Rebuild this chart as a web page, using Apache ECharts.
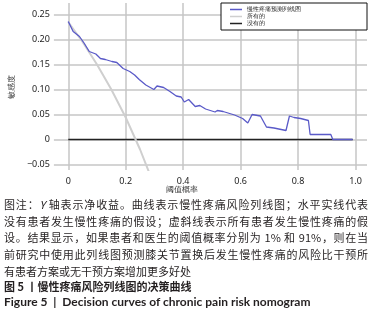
<!DOCTYPE html>
<html>
<head>
<meta charset="utf-8" />
<script src="https://cdn.jsdelivr.net/npm/echarts@6/dist/echarts.min.js"></script>
<style>
  body {
    margin: 0;
    background: #fff;
  }
  #echart {
    position: absolute;
    left: 0;
    top: 0;
    width: 379px;
    height: 315px;
  }
  .caption {
    position: absolute;
    left: 4px;
    top: 196px;
    width: 364px;
    font-family: "Noto Sans CJK SC", sans-serif;
    font-size: 11px;
    color: #231f20;
  }
  .caption .row {
    line-height: 16.7px;
    height: 16.7px;
    text-align: justify;
    text-align-last: justify;
    white-space: nowrap;
  }
  .caption .row.last {
    text-align-last: left;
  }
  .caption .fig {
    line-height: 15px;
    height: 15px;
    font-weight: bold;
    white-space: nowrap;
  }
  .caption .en {
    font-family: Lato, sans-serif;
    font-size: 12px;
  }
</style>
</head>
<body>
<div id="echart"></div>
<div class="caption">
  <div class="row">图注：<i>Y</i> 轴表示净收益。曲线表示慢性疼痛风险列线图；水平实线代表</div>
  <div class="row">没有患者发生慢性疼痛的假设；虚斜线表示所有患者发生慢性疼痛的假</div>
  <div class="row">设。结果显示，如果患者和医生的阈值概率分别为 1% 和 91%，则在当</div>
  <div class="row">前研究中使用此列线图预测膝关节置换后发生慢性疼痛的风险比干预所</div>
  <div class="row last">有患者方案或无干预方案增加更多好处</div>
  <div class="fig">图 5 丨慢性疼痛风险列线图的决策曲线</div>
  <div class="fig en">Figure 5 &nbsp;|&nbsp; Decision curves of chronic pain risk nomogram</div>
</div>
<script>
// series names
const seriesNames = ["慢性疼痛预测列线图", "所有的", "没有的"];

// nomogram curve (threshold probability, net benefit)
const modelPt = [0, 0.017, 0.039, 0.056, 0.073, 0.096, 0.112, 0.129, 0.152, 0.169,
  0.191, 0.214, 0.231, 0.247, 0.27, 0.298, 0.309, 0.332, 0.354, 0.376,
  0.393, 0.404, 0.419, 0.442, 0.458, 0.478, 0.511, 0.519, 0.539, 0.579,
  0.607, 0.625, 0.64, 0.669, 0.69, 0.716, 0.758, 0.77, 0.786, 0.809,
  0.815, 0.836, 0.842, 0.914, 0.921, 0.99];
const modelNB = [0.236, 0.216, 0.206, 0.192, 0.176, 0.171, 0.162, 0.16, 0.156, 0.154,
  0.142, 0.136, 0.129, 0.12, 0.109, 0.1, 0.107, 0.104, 0.096, 0.087,
  0.085, 0.075, 0.08, 0.066, 0.068, 0.061, 0.055, 0.058, 0.056, 0.049,
  0.042, 0.033, 0.05, 0.047, 0.025, 0.023, 0.018, 0.047, 0.044, 0.042,
  0.038, 0.038, 0.01, 0.01, 0, 0];

// treat-all line
const allPt = [0, 0.05, 0.1, 0.15, 0.2, 0.25, 0.3];
const allNB = [0.235, 0.195, 0.15, 0.1, 0.044, -0.02, -0.093];

// treat-none line
const nonePt = [0, 0.99];
const noneNB = [0, 0];

// tick labels
const xTicks = [0, 0.2, 0.4, 0.6, 0.8, 1.0];
const yTicks = [-0.05, 0, 0.05, 0.1, 0.15, 0.2, 0.25];

const zip = (a, b) => a.map((v, i) => [v, b[i]]);

const gridColor = "#c6c6c6";
const labelStyle = { fontSize: 9, color: "#222", fontFamily: "Noto Sans" };

const option = {
  animation: false,
  grid: { left: 43, right: 12, top: 3, bottom: 145 },
  legend: {
    data: seriesNames,
    orient: "vertical",
    left: 221,
    top: 3,
    padding: [3, 66, 3, 9],
    itemGap: 0,
    itemWidth: 12,
    itemHeight: 1.5,
    icon: "rect",
    backgroundColor: "#fff",
    borderColor: "#111",
    borderWidth: 1,
    borderRadius: 0,
    textStyle: { fontSize: 6, color: "#222", padding: [0, 0, 0, 0], lineHeight: 7 },
  },
  xAxis: {
    type: "value",
    min: -0.05,
    max: 1.04,
    axisLine: { show: false },
    axisTick: { show: false, customValues: xTicks },
    axisLabel: {
      ...labelStyle,
      customValues: xTicks,
      margin: 7,
      formatter: (v) => (v === 0 ? "0" : v.toFixed(1)),
    },
    splitLine: { show: true, lineStyle: { color: gridColor, width: 1.5 } },
  },
  yAxis: {
    type: "value",
    min: -0.061,
    max: 0.273,
    name: "敏感度",
    nameLocation: "middle",
    nameGap: 33,
    nameTextStyle: { fontSize: 8, color: "#333" },
    axisLine: { show: false },
    axisTick: { show: false, customValues: yTicks },
    axisLabel: {
      ...labelStyle,
      customValues: yTicks,
      margin: 4,
      formatter: (v) => (Math.abs(v) < 1e-9 ? "0" : v.toFixed(2).replace("-", "−")),
    },
    splitLine: { show: true, lineStyle: { color: gridColor, width: 1.5 } },
  },
  graphic: [
    {
      type: "text",
      left: 166,
      top: 186,
      style: { text: "阈值概率", fontSize: 8, fill: "#333" },
    },
  ],
  series: [
    {
      name: seriesNames[2],
      type: "line",
      data: zip(nonePt, noneNB),
      showSymbol: false,
      color: "#222",
      lineStyle: { width: 1.5 },
      z: 3,
    },
    {
      name: seriesNames[1],
      type: "line",
      data: zip(allPt, allNB),
      showSymbol: false,
      color: "#cfcfcf",
      lineStyle: { width: 2 },
      z: 4,
    },
    {
      name: seriesNames[0],
      type: "line",
      data: zip(modelPt, modelNB),
      showSymbol: false,
      color: "#5a5ac8",
      lineStyle: { width: 1.3 },
      z: 5,
    },
  ],
};

const chart = echarts.init(document.getElementById("echart"));
chart.setOption(option);
</script>
</body>
</html>
